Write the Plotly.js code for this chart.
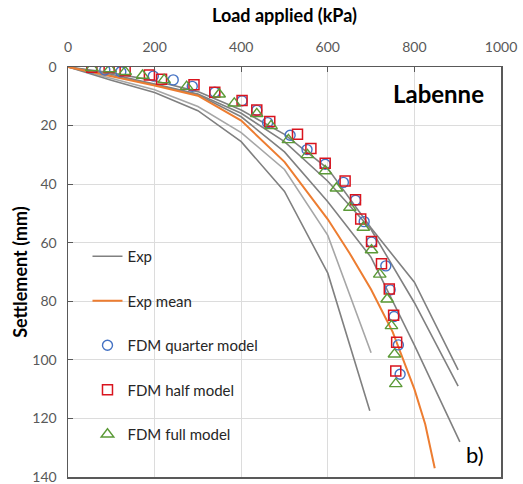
<!DOCTYPE html>
<html>
<head>
<meta charset="utf-8">
<script src="https://cdn.plot.ly/plotly-3.0.1.min.js"></script>
<style>html,body{margin:0;padding:0;background:#fff;}#chart{width:523px;height:484px;}</style>
</head>
<body>
<div id="chart"></div>
<script>
// Experimental load-settlement curves (load kPa, settlement mm)
const expA_load = [0, 100, 200, 300, 400, 500, 600, 700, 800, 901];
const expA_settle = [0, 2.0, 4.7, 8.4, 14.7, 23, 34.7, 55, 73.5, 103.4];
const expB_load = [0, 100, 200, 300, 400, 500, 600, 700, 800, 901];
const expB_settle = [0, 2.5, 5.8, 9.2, 15.8, 25.5, 39, 55.5, 80.5, 109];
const expC_load = [0, 100, 200, 300, 400, 500, 600, 700, 800, 905];
const expC_settle = [0, 3.0, 6.0, 9.5, 17, 29, 46, 65, 95, 128];
const expD_load = [0, 100, 200, 300, 400, 500, 600, 700];
const expD_settle = [0, 4.0, 7.8, 13.5, 22.4, 35, 57.5, 97.6];
const expE_load = [0, 100, 200, 300, 400, 500, 600, 697];
const expE_settle = [0, 4.5, 8.7, 14.9, 25.5, 42.5, 70.4, 117.4];
// Experimental mean
const mean_load = [0, 100, 200, 300, 400, 500, 600, 650, 700, 750, 800, 825, 847];
const mean_settle = [0, 3.2, 6.3, 9.8, 18.3, 32.4, 52, 63.5, 76, 90.5, 110, 122, 137];
// FDM models
const quarter_load = [55, 85, 122, 197, 243, 287, 339, 402, 436, 461, 513, 552, 594, 636, 664, 684, 701, 734, 744, 753, 763, 767];
const quarter_settle = [0.3, 1.0, 1.6, 3.1, 4.4, 6.6, 8.6, 11.5, 14.8, 19.0, 23.3, 28.2, 33.2, 39.4, 45.5, 52.8, 59.8, 67.9, 76.1, 85.2, 94.9, 104.9];
const half_load = [55, 95, 132, 188, 216, 291, 339, 402, 436, 466, 530, 561, 594, 640, 664, 676, 701, 724, 742, 752, 759, 757];
const half_settle = [0.1, 0.2, 1.3, 2.7, 4.2, 6.1, 8.6, 11.4, 14.7, 18.6, 23.0, 27.8, 32.9, 38.9, 45.3, 51.9, 59.6, 67.2, 75.8, 84.8, 94.0, 103.8];
const full_load = [55, 97, 132, 172, 222, 274, 349, 384, 436, 469, 509, 553, 594, 620, 651, 682, 701, 720, 737, 747, 754, 757];
const full_settle = [0.3, 0.7, 1.6, 2.9, 4.4, 6.7, 9.3, 12.4, 16.0, 20.1, 24.9, 30.0, 35.5, 41.4, 48.0, 54.8, 62.5, 70.8, 79.3, 88.4, 98.1, 108.2];

const FONT = 'Lato, "Open Sans", sans-serif';
const gray = '#808080', lightGray = '#a6a6a6';

function expTrace(x, y, color, show) {
  return {x: x, y: y, type: 'scatter', mode: 'lines', name: 'Exp',
    legendgroup: 'exp', showlegend: show,
    line: {color: color, width: 1.6}, hoverinfo: 'skip'};
}

const traces = [
  expTrace(expA_load, expA_settle, gray, true),
  expTrace(expB_load, expB_settle, gray, false),
  expTrace(expC_load, expC_settle, gray, false),
  expTrace(expD_load, expD_settle, lightGray, false),
  expTrace(expE_load, expE_settle, gray, false),
  {x: mean_load, y: mean_settle, type: 'scatter', mode: 'lines', name: 'Exp mean',
   legendgroup: 'mean', line: {color: '#ed7d31', width: 2}},
  {x: quarter_load, y: quarter_settle, type: 'scatter', mode: 'markers', name: 'FDM quarter model',
   legendgroup: 'q', marker: {symbol: 'circle-open', size: 10, color: '#4472c4', line: {width: 1.4}}},
  {x: half_load, y: half_settle, type: 'scatter', mode: 'markers', name: 'FDM half model',
   legendgroup: 'h', marker: {symbol: 'square-open', size: 10, color: '#d9141e', line: {width: 1.5}}},
  {x: full_load, y: full_settle, type: 'scatter', mode: 'markers', name: 'FDM full model',
   legendgroup: 'f', marker: {symbol: 'triangle-up-open', size: 11, color: '#5b9a37', line: {width: 1.4}}}
];

const layout = {
  width: 523, height: 484,
  margin: {l: 68, r: 22, t: 67, b: 7},
  paper_bgcolor: '#fff', plot_bgcolor: '#fff',
  font: {family: FONT, color: '#595959', size: 13},
  showlegend: true,
  legend: {x: 0.045, y: 0.578, xanchor: 'left', yanchor: 'top', bgcolor: 'rgba(0,0,0,0)',
    font: {family: FONT, size: 15, color: '#262626'}, tracegroupgap: 22, itemwidth: 30},
  xaxis: {
    side: 'top', range: [0, 1000], dtick: 200, tick0: 0,
    showgrid: true, gridcolor: '#dcdcdc', gridwidth: 1,
    showline: true, linecolor: '#595959', linewidth: 1.5, mirror: true,
    ticks: 'inside', ticklen: 5, tickcolor: '#595959', zeroline: false,
    ticklabelstandoff: 8,
    tickfont: {family: FONT, size: 14, color: '#595959'},
    title: {text: '<b>Load applied (kPa)</b>', font: {family: FONT, size: 18, color: '#000'}, standoff: 10}
  },
  yaxis: {
    range: [140, 0], dtick: 20, tick0: 0,
    showgrid: true, gridcolor: '#dcdcdc', gridwidth: 1,
    showline: true, linecolor: '#595959', linewidth: 1.5, mirror: true,
    ticks: 'inside', ticklen: 5, tickcolor: '#595959', zeroline: false,
    ticklabelstandoff: 7, ticklabeloverflow: 'allow',
    tickfont: {family: FONT, size: 14, color: '#595959'},
    title: {text: '<b>Settlement (mm)</b>', font: {family: FONT, size: 18, color: '#000'}, standoff: 0}
  },
  annotations: [
    {xref: 'paper', yref: 'paper', x: 0.965, y: 0.935, xanchor: 'right', yanchor: 'middle',
     text: '<b>Labenne</b>', showarrow: false, font: {family: FONT, size: 24, color: '#000'}},
    {xref: 'paper', yref: 'paper', x: 0.965, y: 0.055, xanchor: 'right', yanchor: 'middle',
     text: 'b)', showarrow: false, font: {family: FONT, size: 22, color: '#000'}}
  ]
};

Plotly.newPlot('chart', traces, layout, {displayModeBar: false, staticPlot: true});
</script>
</body>
</html>
